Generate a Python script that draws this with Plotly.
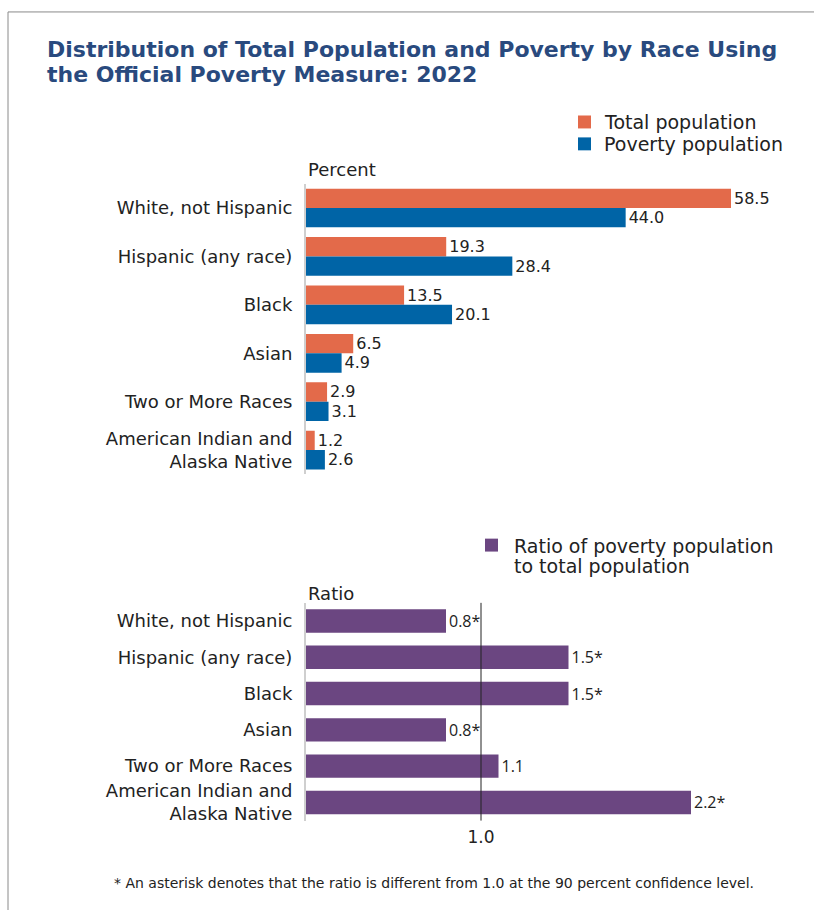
import plotly.graph_objects as go

W, H = 814, 914

# Race groups (top to bottom)
races = [
    "White, not Hispanic",
    "Hispanic (any race)",
    "Black",
    "Asian",
    "Two or More Races",
    "American Indian and<br>Alaska Native",
]

# Percent distribution, 2022 (Official Poverty Measure)
total_pct = [58.5, 19.3, 13.5, 6.5, 2.9, 1.2]
poverty_pct = [44.0, 28.4, 20.1, 4.9, 3.1, 2.6]

# Ratio of poverty population to total population
ratio = [0.8, 1.5, 1.5, 0.8, 1.1, 2.2]
ratio_significant = [True, True, True, True, False, True]

title_lines = [
    "Distribution of Total Population and Poverty by Race Using",
    "the Official Poverty Measure: 2022",
]

ORANGE = "#E36A4A"
BLUE = "#0064A6"
PURPLE = "#6B4681"
NAVY = "#294A7E"
TEXT = "#222222"
FONT = "DejaVu Sans"


def px_x(p):
    return p / W


def px_y(p):
    return 1 - p / H


fig = go.Figure()

fig.add_trace(go.Bar(
    name="Total population", y=races, x=total_pct, orientation="h",
    marker=dict(color=ORANGE, line=dict(width=0)),
    text=[f"{v:.1f}" for v in total_pct], textposition="outside",
    textfont=dict(family=FONT, size=16, color=TEXT),
    constraintext="none", cliponaxis=False,
    xaxis="x", yaxis="y", showlegend=False,
))
fig.add_trace(go.Bar(
    name="Poverty population", y=races, x=poverty_pct, orientation="h",
    marker=dict(color=BLUE, line=dict(width=0)),
    text=[f"{v:.1f}" for v in poverty_pct], textposition="outside",
    textfont=dict(family=FONT, size=16, color=TEXT),
    constraintext="none", cliponaxis=False,
    xaxis="x", yaxis="y", showlegend=False,
))
fig.add_trace(go.Bar(
    name="Ratio", y=races, x=ratio, orientation="h",
    marker=dict(color=PURPLE, line=dict(width=0)),
    text=[f"{v:.1f}" + ("*" if s else "") for v, s in zip(ratio, ratio_significant)],
    textposition="outside",
    textfont=dict(family="Open Sans", size=16, color=TEXT),
    constraintext="none", cliponaxis=False,
    width=0.645,
    xaxis="x2", yaxis="y2", showlegend=False,
))

x_left, x_right = 306, 786
top_scale = 7.265      # px per percent point
ratio_scale = 175.0    # px per ratio unit

tick_font = dict(family=FONT, size=18, color=TEXT)

fig.update_layout(
    width=W, height=H,
    margin=dict(l=0, r=0, t=0, b=0),
    paper_bgcolor="white", plot_bgcolor="white",
    barmode="group",
    bargap=0.2, bargroupgap=0,
    font=dict(family=FONT, color=TEXT),
    xaxis=dict(
        domain=[px_x(x_left), px_x(x_right)],
        range=[0, (x_right - x_left) / top_scale],
        showgrid=False, zeroline=False, showline=False,
        showticklabels=False, ticks="", fixedrange=True,
    ),
    yaxis=dict(
        domain=[px_y(476.4), px_y(184.6)],
        autorange="reversed", showgrid=False, zeroline=False,
        showline=True, linecolor="#cfcfcf", linewidth=2,
        ticks="", ticklabelstandoff=8, tickfont=tick_font,
    ),
    xaxis2=dict(
        domain=[px_x(x_left), px_x(x_right)],
        range=[0, (x_right - x_left) / ratio_scale],
        anchor="y2",
        showgrid=False, zeroline=False, showline=False,
        tickvals=[1.0], ticktext=["1.0"], ticks="",
        ticklabelstandoff=4,
        tickfont=dict(family=FONT, size=17, color=TEXT),
        fixedrange=True,
    ),
    yaxis2=dict(
        domain=[px_y(824.2), px_y(605.5)],
        anchor="x2",
        autorange="reversed", showgrid=False, zeroline=False,
        showline=True, linecolor="#cfcfcf", linewidth=2,
        ticks="", ticklabelstandoff=8, tickfont=tick_font,
    ),
)

shapes = [
    # frame
    dict(type="line", xref="paper", yref="paper",
         x0=px_x(8), x1=1, y0=px_y(12), y1=px_y(12),
         line=dict(color="#8a8a8a", width=1)),
    dict(type="line", xref="paper", yref="paper",
         x0=px_x(8), x1=px_x(8), y0=px_y(12), y1=0,
         line=dict(color="#8a8a8a", width=1)),
    # reference line at ratio 1.0
    dict(type="line", xref="x2", yref="y2 domain",
         x0=1.0, x1=1.0, y0=0, y1=1,
         line=dict(color="#222222", width=1)),
    # legend swatches
    dict(type="rect", xref="paper", yref="paper",
         x0=px_x(578), x1=px_x(591), y0=px_y(129), y1=px_y(116),
         fillcolor=ORANGE, line=dict(width=0)),
    dict(type="rect", xref="paper", yref="paper",
         x0=px_x(578), x1=px_x(591), y0=px_y(151), y1=px_y(138),
         fillcolor=BLUE, line=dict(width=0)),
    dict(type="rect", xref="paper", yref="paper",
         x0=px_x(485), x1=px_x(498), y0=px_y(554), y1=px_y(541),
         fillcolor=PURPLE, line=dict(width=0)),
]


def label(text, x, y, size, xanchor="left", family=FONT, color=TEXT, weight="normal"):
    return dict(text=text, x=px_x(x), y=px_y(y), xref="paper", yref="paper",
                xanchor=xanchor, yanchor="middle", showarrow=False,
                font=dict(family=family, size=size, color=color, weight=weight))


annotations = [
    label(title_lines[0], 45, 50, 22, color=NAVY, weight="bold"),
    label(title_lines[1], 45, 75, 22, color=NAVY, weight="bold"),
    label("Total population", 602, 123, 19),
    label("Poverty population", 602, 145, 19),
    label("Ratio of poverty population", 512, 548, 19),
    label("to total population", 512, 568, 19),
    label("Percent", 306, 170, 18),
    label("Ratio", 306, 596, 18),
    label("* An asterisk denotes that the ratio is different from 1.0 "
          "at the 90 percent confidence level.", 434, 887, 14, xanchor="center"),
]

fig.update_layout(shapes=shapes, annotations=annotations)

fig.write_html("out.html")
